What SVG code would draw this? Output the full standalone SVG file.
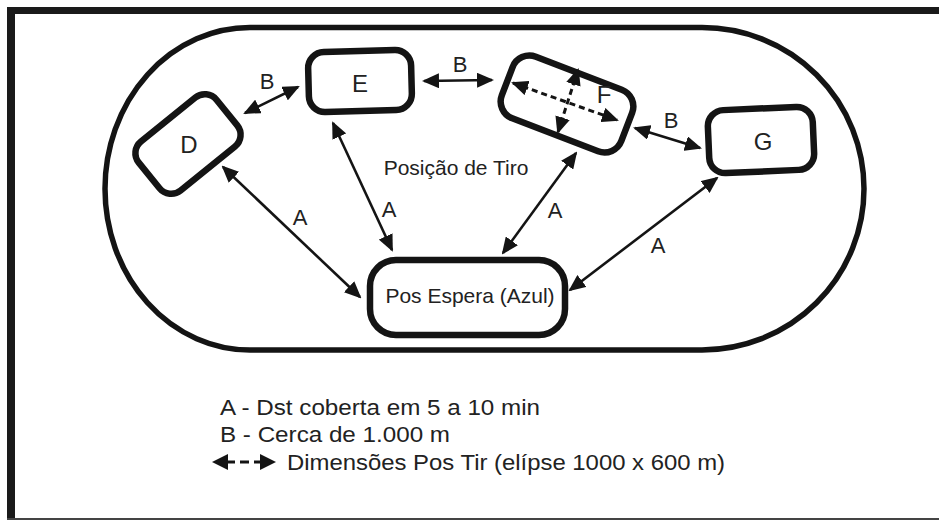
<svg xmlns="http://www.w3.org/2000/svg" width="939" height="521" viewBox="0 0 939 521">
<defs>
<marker id="arr" viewBox="0 0 17 15" refX="15" refY="7.5" markerWidth="17" markerHeight="15" markerUnits="userSpaceOnUse" orient="auto-start-reverse"><path d="M0,0 L17,7.5 L0,15 Z" fill="#141414"/></marker>
<style>
.box{fill:#fff;stroke:#141414;stroke-width:6.5}
.conn{stroke:#141414;stroke-width:2.6;fill:none;marker-start:url(#arr);marker-end:url(#arr)}
.dash{stroke:#141414;stroke-width:3;fill:none;stroke-dasharray:6 4;marker-start:url(#arr);marker-end:url(#arr)}
text{font-family:"Liberation Sans",Arial,sans-serif;fill:#222}
.lbl{font-size:21px;text-anchor:middle}
.let{font-size:22px;text-anchor:middle}
.nl{font-size:24px;text-anchor:middle}
.leg{font-size:22px}
</style>
</defs>
<rect x="0" y="0" width="939" height="521" fill="#fff"/>
<g id="frame">
<rect x="7" y="7" width="932" height="7" fill="#1a1a1a"/>
<rect x="7" y="7" width="8" height="513" fill="#1a1a1a"/>
<line x1="7" y1="519" x2="939" y2="519" stroke="#444" stroke-width="2"/>
</g>
<g id="area">
<path d="M250,27.5 H702 A162,161.25 0 0 1 702,350 H250 A145,161.25 0 0 1 250,27.5 Z" fill="none" stroke="#141414" stroke-width="5.5"/>
<text x="456" y="175" class="lbl">Posição de Tiro</text>
</g>
<g id="node-D">
<rect class="box" x="-50" y="-31.5" width="100" height="63" rx="15" transform="translate(188,144) rotate(-39)"/>
<text x="189" y="153" class="nl">D</text>
</g>
<g id="node-E">
<rect class="box" x="-51.5" y="-30" width="103" height="60" rx="16" transform="translate(360,81) rotate(-1.5)"/>
<text x="360" y="92" class="nl">E</text>
</g>
<g id="node-F">
<rect class="box" x="-64" y="-33" width="128" height="66" rx="18" transform="translate(567,104) rotate(21)"/>
<line class="dash" x1="513" y1="83" x2="617" y2="120"/>
<line class="dash" x1="578" y1="70" x2="558" y2="132"/>
<text x="604" y="103" class="nl">F</text>
</g>
<g id="node-G">
<rect class="box" x="-52.5" y="-31.5" width="105" height="63" rx="16" transform="translate(761,140) rotate(-2.5)"/>
<text x="763" y="150" class="nl">G</text>
</g>
<g id="node-Pos">
<rect class="box" x="370" y="260" width="195" height="75" rx="26"/>
<text x="470" y="303" class="lbl">Pos Espera (Azul)</text>
</g>
<g id="connectors">
<line class="conn" x1="245" y1="113" x2="298" y2="87"/>
<line class="conn" x1="424" y1="81" x2="492" y2="80"/>
<line class="conn" x1="635" y1="128" x2="700" y2="148"/>
<line class="conn" x1="223" y1="167" x2="360" y2="297"/>
<line class="conn" x1="333" y1="123" x2="392" y2="250"/>
<line class="conn" x1="576" y1="153" x2="503" y2="253"/>
<line class="conn" x1="717" y1="178" x2="570" y2="290"/>
<text x="267" y="89" class="let">B</text>
<text x="460" y="72" class="let">B</text>
<text x="671" y="128" class="let">B</text>
<text x="300" y="225" class="let">A</text>
<text x="389" y="217" class="let">A</text>
<text x="555" y="218" class="let">A</text>
<text x="658" y="253" class="let">A</text>
</g>
<g id="legend">
<text x="220" y="415" class="leg" textLength="320" lengthAdjust="spacingAndGlyphs">A - Dst coberta em 5 a 10 min</text>
<text x="220" y="442" class="leg" textLength="230" lengthAdjust="spacingAndGlyphs">B - Cerca de 1.000 m</text>
<polygon points="212,462 228,454 228,470" fill="#141414"/>
<line x1="226" y1="462" x2="262" y2="462" stroke="#141414" stroke-width="3" stroke-dasharray="9 5"/>
<polygon points="260,454 276,462 260,470" fill="#141414"/>
<text x="287" y="470" class="leg" textLength="438" lengthAdjust="spacingAndGlyphs">Dimensões Pos Tir (elípse 1000 x 600 m)</text>
</g>
</svg>
